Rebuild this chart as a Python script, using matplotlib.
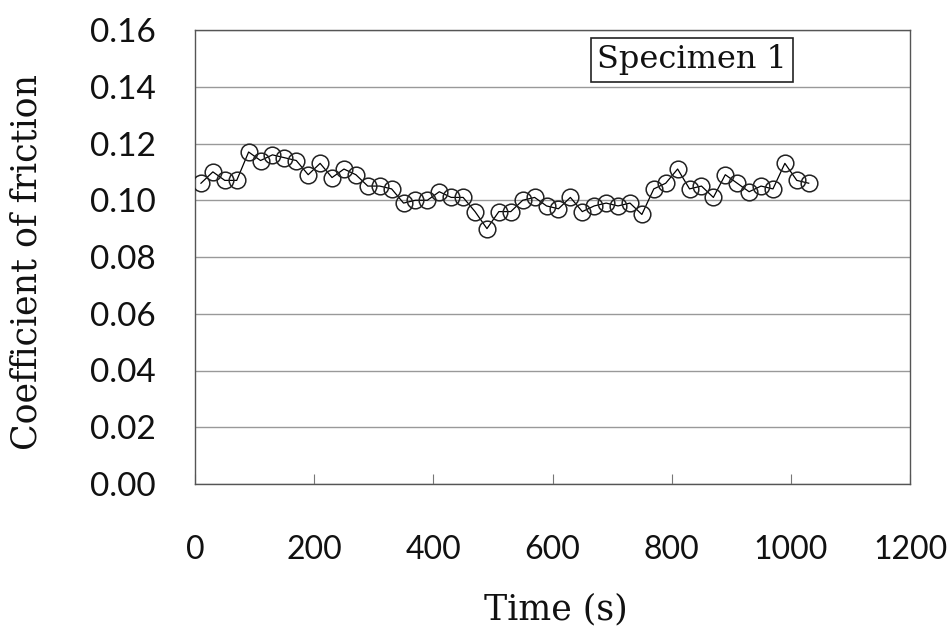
import matplotlib
matplotlib.use("Agg")
import matplotlib.pyplot as plt

time_s = [10, 30, 50, 70, 90, 110, 130, 150, 170, 190,
          210, 230, 250, 270, 290, 310, 330, 350, 370, 390,
          410, 430, 450, 470, 490, 510, 530, 550, 570, 590,
          610, 630, 650, 670, 690, 710, 730, 750, 770, 790,
          810, 830, 850, 870, 890, 910, 930, 950, 970, 990,
          1010, 1030]
cof = [0.106, 0.110, 0.107, 0.107, 0.117, 0.114, 0.116, 0.115, 0.114, 0.109,
       0.113, 0.108, 0.111, 0.109, 0.105, 0.105, 0.104, 0.099, 0.100, 0.100,
       0.103, 0.101, 0.101, 0.096, 0.090, 0.096, 0.096, 0.100, 0.101, 0.098,
       0.097, 0.101, 0.096, 0.098, 0.099, 0.098, 0.099, 0.095, 0.104, 0.106,
       0.111, 0.104, 0.105, 0.101, 0.109, 0.106, 0.103, 0.105, 0.104, 0.113,
       0.107, 0.106]
x_ticks = [0, 200, 400, 600, 800, 1000, 1200]
y_ticks = [0.00, 0.02, 0.04, 0.06, 0.08, 0.10, 0.12, 0.14, 0.16]
x_label = "Time (s)"
y_label = "Coefficient of friction"
note = "Specimen 1"

fig = plt.figure(figsize=(9.52, 6.26), dpi=100)
ax = fig.add_axes([195/952, 1-484/626, 715/952, 454/626])

ax.plot(time_s, cof, color="black", linewidth=0.9,
        marker="o", markersize=12, markerfacecolor="none",
        markeredgecolor="#222222", markeredgewidth=1.1, zorder=3)

ax.set_xlim(0, 1200)
ax.set_ylim(0, 0.16)
ax.set_xticks(x_ticks)
ax.set_yticks(y_ticks)
ax.set_xticklabels([str(v) for v in x_ticks], fontfamily="Lato", fontsize=23, color="#111111")
ax.set_yticklabels([f"{v:.2f}" for v in y_ticks], fontfamily="Lato", fontsize=24, color="#111111")
ax.tick_params(axis="x", direction="in", length=7, width=0.8, pad=37, color="#777777")
ax.tick_params(axis="y", length=0, pad=28)
ax.grid(axis="y", color="#999999", linewidth=1.0)
ax.set_axisbelow(True)
for s in ax.spines.values():
    s.set_color("#555555")
    s.set_linewidth(1.0)

fig.text(27/952, 1-262/626, y_label, rotation=90, ha="center", va="center",
         fontfamily="DejaVu Serif", fontsize=25, color="#111111")
fig.text(556/952, 1-609/626, x_label, ha="center", va="center",
         fontfamily="DejaVu Serif", fontsize=25, color="#111111")

ax.text(0.695, 0.934, note, transform=ax.transAxes, ha="center", va="center",
        fontfamily="DejaVu Serif", fontsize=23, color="#111111",
        bbox=dict(boxstyle="square,pad=0.2", facecolor="white", edgecolor="#222222", linewidth=1.2))

fig.savefig("out.png", dpi=100)
